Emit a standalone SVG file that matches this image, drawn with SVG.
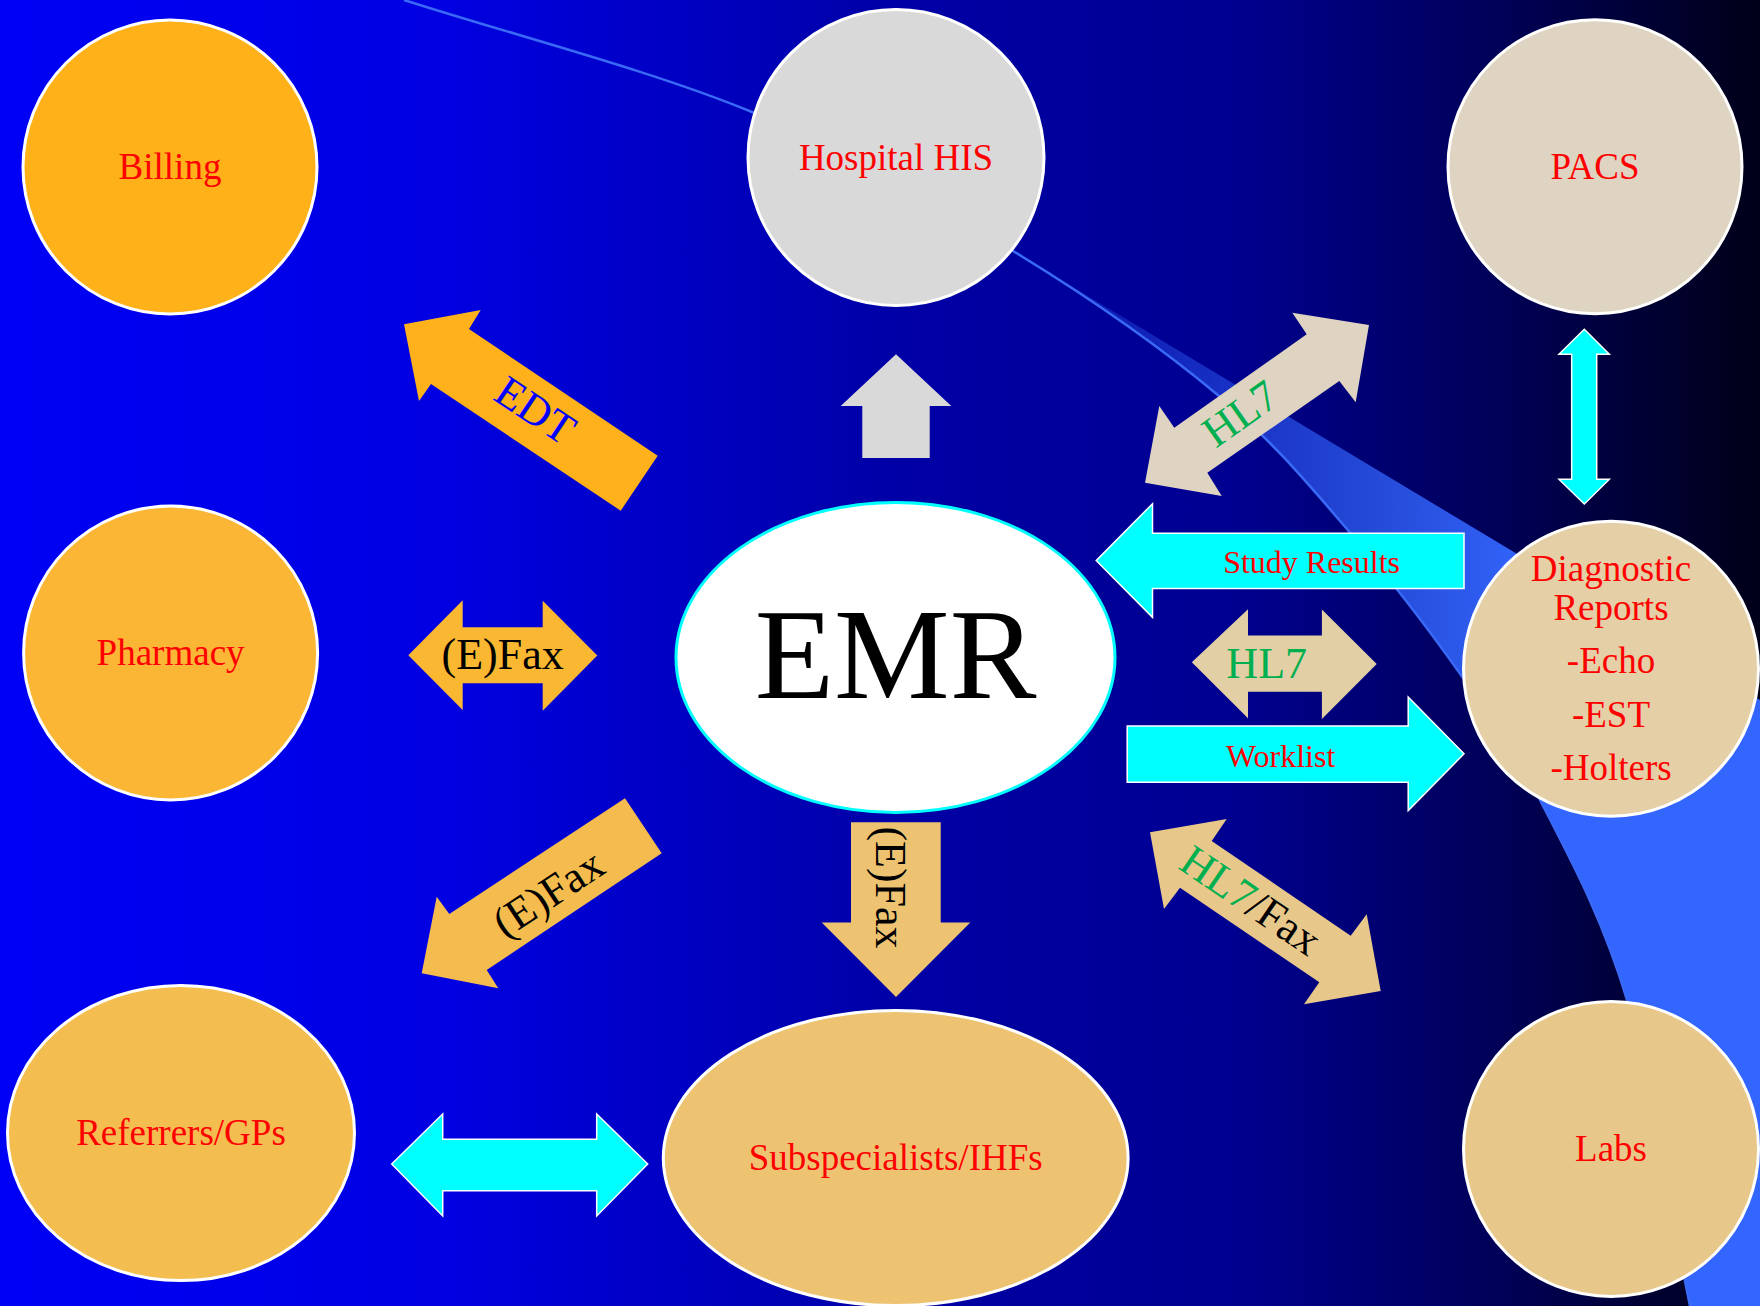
<svg xmlns="http://www.w3.org/2000/svg" width="1760" height="1306" viewBox="0 0 1760 1306">
<defs>
<linearGradient id="bg" x1="0" y1="0" x2="1760" y2="0" gradientUnits="userSpaceOnUse">
<stop offset="0" stop-color="#0000F5"/>
<stop offset="0.25" stop-color="#0000E2"/>
<stop offset="0.5" stop-color="#0000A8"/>
<stop offset="0.7" stop-color="#000090"/>
<stop offset="0.85" stop-color="#000058"/>
<stop offset="1" stop-color="#000018"/>
</linearGradient>
<linearGradient id="wedge" x1="1013" y1="0" x2="1540" y2="0" gradientUnits="userSpaceOnUse">
<stop offset="0" stop-color="#3366FF" stop-opacity="0.12"/>
<stop offset="1" stop-color="#3366FF" stop-opacity="1"/>
</linearGradient>
<style>
.node{stroke:#FFFFFF;stroke-width:3}
.lbl{font-family:"Liberation Serif","Times New Roman",serif;font-size:37px;fill:#FF0000;text-anchor:middle}
.alb{font-family:"Liberation Serif","Times New Roman",serif;font-size:44px;text-anchor:middle}
.small{font-family:"Liberation Serif","Times New Roman",serif;font-size:32px;fill:#FF0000;text-anchor:middle}
.cy{fill:#00FFFF;stroke:#FFFFFF;stroke-width:1.5}
.green{fill:#00B050}
.blk{fill:#000000}
</style>
</defs>
<rect x="0" y="0" width="1760" height="1306" fill="url(#bg)"/>
<path d="M1013,251 L1760,700 L1760,1306 L1690,1306 C1669,1204 1652,1084.3 1627,1000 C1602,915.7 1567.7,854.2 1540,800 C1512.3,745.8 1492.2,719 1461,675 C1429.8,631 1393.3,582.5 1353,536 C1312.7,489.5 1275.7,443.5 1219,396 C1162.3,348.5 1090.8,298.3 1013,251 Z" fill="url(#wedge)"/>
<path d="M404,0 C520,37 650.5,70.2 752,112 C853.5,153.8 935.2,203.7 1013,251 C1090.8,298.3 1162.3,348.5 1219,396 C1275.7,443.5 1312.7,489.5 1353,536 C1393.3,582.5 1429.8,631 1461,675 C1492.2,719 1512.3,745.8 1540,800 C1567.7,854.2 1602,915.7 1627,1000 C1652,1084.3 1669,1204 1690,1306" fill="none" stroke="#3A6AF5" stroke-width="2.5"/>

<g id="connectors">
<g id="edt-arrow">
<polygon points="404,324.3 480.7,310 469,329 657.7,455.7 620.7,510.7 431,384 419,401" fill="#FFB11B"/>
<text class="alb" transform="translate(535.7,410) rotate(33.7)" x="0" y="15" fill="#0000FF">EDT</text>
</g>
<g id="his-arrow">
<polygon points="896,354.3 951.3,405.9 929.7,405.9 929.7,458 862.3,458 862.3,405.9 840.7,405.9" fill="#D9D9D9"/>
</g>
<g id="pacs-hl7-arrow">
<polygon points="1369,325 1355.7,402.3 1339.3,381 1207.3,472.7 1221.7,496 1145,482.7 1159.3,406 1174.3,427.7 1306.7,334.3 1292.3,312.7" fill="#DED4C1"/>
<text class="alb green" transform="translate(1240,413.3) rotate(-35.2)" x="0" y="15">HL7</text>
</g>
<g id="pacs-diag-arrow">
<polygon class="cy" points="1584.3,329.3 1609.3,354.3 1596.7,354.3 1596.7,479.3 1609.3,479.3 1584.3,504 1559,479.3 1571.7,479.3 1571.7,354.3 1559,354.3"/>
</g>
<g id="study-results-arrow">
<polygon class="cy" points="1096.2,560.6 1152.5,503.7 1152.5,533.2 1464,533.2 1464,588.5 1152.5,588.5 1152.5,617.4"/>
<text class="small" x="1311.6" y="573">Study Results</text>
</g>
<g id="diag-hl7-arrow">
<polygon points="1191.8,662.3 1248,609.3 1248,635.5 1321.9,635.5 1321.9,609.5 1376.7,664 1321.9,719 1321.9,691.8 1248,691.8 1248,718.3" fill="#E3CFA5"/>
<text class="alb green" x="1266.7" y="677.8">HL7</text>
</g>
<g id="worklist-arrow">
<polygon class="cy" points="1127.2,725.9 1408.2,725.9 1408.2,697 1464,753.8 1408.2,810.6 1408.2,782.2 1127.2,782.2"/>
<text class="small" x="1280.6" y="767.2">Worklist</text>
</g>
<g id="labs-arrow">
<polygon points="1150,832.3 1226.7,819 1211.7,841 1350.7,935.7 1366.7,914.3 1380.7,991 1304,1004.3 1319.3,982.3 1180,887.7 1164,909" fill="#E8C78A"/>
<text class="alb" transform="translate(1251,900) rotate(34.3)" x="0" y="15"><tspan class="green">HL7</tspan><tspan class="blk">/Fax</tspan></text>
</g>
<g id="subspecialists-arrow">
<polygon points="851,822.3 940.7,822.3 940.7,922.4 970.3,922.4 896,997 821.7,922.4 851,922.4" fill="#EDC371"/>
<text class="alb blk" transform="translate(891,887.5) rotate(90)" x="0" y="15">(E)Fax</text>
</g>
<g id="referrers-arrow">
<polygon points="625,798.3 661.7,853.3 486.7,970 498.3,988.3 421.7,973.3 436.7,896.7 449.3,914" fill="#F4BC4E"/>
<text class="alb blk" transform="translate(548,893) rotate(-33.4)" x="0" y="15">(E)Fax</text>
</g>
<g id="pharmacy-arrow">
<polygon points="408.3,655.3 462.7,600.3 462.7,627.3 542.7,627.3 542.7,600.7 597.3,655.5 542.7,710.7 542.7,683.3 462.7,683.3 462.7,710" fill="#FAB732"/>
<text class="alb blk" x="502.7" y="669.3">(E)Fax</text>
</g>
<g id="referrers-subspecialists-arrow">
<polygon class="cy" points="391.7,1164 442.7,1114 442.7,1139.3 596.7,1139.3 596.7,1114 647.7,1164 596.7,1216 596.7,1190.7 442.7,1190.7 442.7,1216"/>
</g>
</g>

<g id="billing"><circle class="node" cx="170" cy="167" r="147" fill="#FFB11A"/><text class="lbl" x="170" y="179">Billing</text></g>
<g id="hospital-his"><circle class="node" cx="896" cy="157.5" r="148" fill="#D9D9D9"/><text class="lbl" x="896" y="170">Hospital HIS</text></g>
<g id="pacs"><circle class="node" cx="1595" cy="166.7" r="147" fill="#DED4C1"/><text class="lbl" x="1595" y="179">PACS</text></g>
<g id="pharmacy"><circle class="node" cx="170.6" cy="653" r="147" fill="#FAB634"/><text class="lbl" x="170.6" y="665">Pharmacy</text></g>
<g id="emr"><ellipse cx="895.5" cy="657.5" rx="219.5" ry="155" fill="#FFFFFF" stroke="#00FFFF" stroke-width="3"/><text x="895.5" y="698" text-anchor="middle" font-family="'Liberation Serif','Times New Roman',serif" font-size="130" fill="#000000">EMR</text></g>
<g id="diagnostic-reports"><circle class="node" cx="1611" cy="668.8" r="147.5" fill="#E4CFA6"/>
<text class="lbl" x="1611" y="581">Diagnostic</text>
<text class="lbl" x="1611" y="619.5">Reports</text>
<text class="lbl" x="1611" y="672.7">-Echo</text>
<text class="lbl" x="1611" y="727">-EST</text>
<text class="lbl" x="1611" y="779.6">-Holters</text>
</g>
<g id="referrers"><ellipse class="node" cx="181" cy="1133" rx="173.5" ry="147.6" fill="#F4BD50"/><text class="lbl" x="181" y="1145">Referrers/GPs</text></g>
<g id="subspecialists"><ellipse class="node" cx="895.7" cy="1158" rx="232.4" ry="147.6" fill="#EDC372"/><text class="lbl" x="895.7" y="1170">Subspecialists/IHFs</text></g>
<g id="labs"><circle class="node" cx="1611" cy="1149" r="147.5" fill="#E8C88A"/><text class="lbl" x="1611" y="1161">Labs</text></g>
</svg>
